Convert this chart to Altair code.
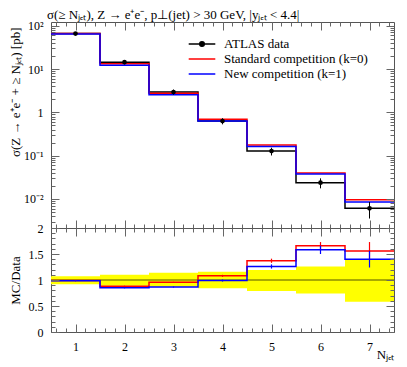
import altair as alt
import pandas as pd

# ---------------- data ----------------
bins = [1, 2, 3, 4, 5, 6, 7]
bin_lo = [0.5, 1.5, 2.5, 3.5, 4.5, 5.5, 6.5]
bin_hi = [1.5, 2.5, 3.5, 4.5, 5.5, 6.5, 7.5]

data_vals = [66.0, 14.4, 2.95, 0.63, 0.128, 0.0238, 0.0061]
std_vals = [66.0, 13.2, 2.75, 0.69, 0.176, 0.0400, 0.0096]
new_vals = [64.5, 12.2, 2.55, 0.63, 0.164, 0.0378, 0.0085]

band_lo = [0.92, 0.89, 0.87, 0.84, 0.79, 0.74, 0.58]
band_hi = [1.07, 1.10, 1.14, 1.16, 1.19, 1.26, 1.40]

std_ratio = [0.99, 0.88, 0.955, 1.08, 1.37, 1.66, 1.56]
new_ratio = [0.985, 0.85, 0.865, 0.99, 1.26, 1.58, 1.40]
std_ratio_err = [0.01, 0.01, 0.01, 0.02, 0.04, 0.07, 0.17]
new_ratio_err = [0.01, 0.01, 0.01, 0.02, 0.04, 0.08, 0.16]

series_names = ["ATLAS data", "Standard competition (k=0)", "New competition (k=1)"]
series_colors = ["#000000", "#ff0000", "#0000ff"]
legend_shapes = ["M-1.9,0H1.9M-0.33,0A0.33,0.33,0,1,1,0.33,0A0.33,0.33,0,1,1,-0.33,0",
                 "M-1.9,0H1.9", "M-1.9,0H1.9"]

title_text = "σ(≥ Nⱼₑₜ), Z → e⁺e⁻, p⊥(jet) > 30 GeV, |yⱼₑₜ < 4.4|"
ytitle_main = "σ(Z → e⁺e⁻ + ≥ Nⱼₑₜ) [pb]"
ytitle_ratio = "MC/Data"
xtitle = "Nⱼₑₜ"

# ---------------- tables ----------------
def step_table(vals, name):
    xs = bin_lo + [bin_hi[-1]]
    ys = vals + [vals[-1]]
    return pd.DataFrame({"x": xs, "y": ys, "series": name})

main_steps = pd.concat([
    step_table(data_vals, series_names[0]),
    step_table(std_vals, series_names[1]),
    step_table(new_vals, series_names[2]),
])
ratio_steps = pd.concat([
    step_table(std_ratio, series_names[1]),
    step_table(new_ratio, series_names[2]),
])
points = pd.DataFrame({
    "x": bins, "y": data_vals,
    "lo": [v * l for v, l in zip(data_vals, band_lo)],
    "hi": [v * h for v, h in zip(data_vals, band_hi)],
})
band = pd.DataFrame({"x": bin_lo, "x2": bin_hi, "lo": band_lo, "hi": band_hi})
rerr = pd.concat([
    pd.DataFrame({"x": bins, "lo": [r - e for r, e in zip(std_ratio, std_ratio_err)],
                  "hi": [r + e for r, e in zip(std_ratio, std_ratio_err)], "series": series_names[1]}),
    pd.DataFrame({"x": bins, "lo": [r - e for r, e in zip(new_ratio, new_ratio_err)],
                  "hi": [r + e for r, e in zip(new_ratio, new_ratio_err)], "series": series_names[2]}),
])
dummy = pd.DataFrame({"x": [1.0], "y": [1.0]})
legend_df = pd.DataFrame({"x": [1.0] * 3, "y": [1.0] * 3, "series": series_names})

# ---------------- styling ----------------
FONT = "Liberation Serif"
W, H1, H2 = 343, 206, 104
TICK_COLOR = "#666666"
MAJ, MIN = 8, 4

xscale = alt.Scale(domain=[0.5, 7.5], nice=False, zero=False)
yscale_main = alt.Scale(type="log", domain=[0.00214, 122], nice=False)
yscale_ratio = alt.Scale(domain=[0, 2], nice=False, zero=False)
color_scale = alt.Scale(domain=series_names, range=series_colors)
shape_scale = alt.Scale(domain=series_names, range=legend_shapes)

x_minor = [round(0.6 + 0.2 * i, 1) for i in range(35)]
y_major_main = [0.01, 0.1, 1, 10, 100]
y_minor_main = [k * 10.0 ** e for e in range(-3, 3) for k in range(2, 10)
                if 0.00214 <= k * 10.0 ** e <= 122]
y_major_ratio = [0, 0.5, 1, 1.5, 2]
y_minor_ratio = [round(0.1 * i, 1) for i in range(21)]

log_label = ("datum.value >= 99 ? '10²' : datum.value >= 9 ? '10¹' : datum.value >= 0.9 ? '1' : "
             "datum.value >= 0.09 ? '10⁻¹' : '10⁻²'")


def ax(orient, values, size, labels=False, **kw):
    return alt.Axis(orient=orient, values=values, tickSize=size, offset=-size, domain=False,
                    grid=False, labels=labels, tickColor=TICK_COLOR, tickWidth=1,
                    labelFont=FONT, labelFontSize=12, labelColor="#000", title=kw.pop("title", None),
                    zindex=2, **kw)


def hosts(yscale, ymaj, ymin, bottom_major_axis, left_major_axis):
    specs = [
        (bottom_major_axis, left_major_axis),
        (ax("bottom", x_minor, MIN), ax("left", ymin, MIN)),
        (ax("top", bins, MAJ), ax("right", ymaj, MAJ)),
        (ax("top", x_minor, MIN), ax("right", ymin, MIN)),
    ]
    layers = []
    for xa, ya in specs:
        layers.append(
            alt.Chart(dummy).mark_point(opacity=0).encode(
                x=alt.X("x:Q", scale=xscale, axis=xa),
                y=alt.Y("y:Q", scale=yscale, axis=ya),
            )
        )
    return layers


# ---------------- main panel ----------------
main_hosts = hosts(
    yscale_main, y_major_main, y_minor_main,
    ax("bottom", bins, MAJ),
    ax("left", y_major_main, MAJ, labels=True, labelExpr=log_label, labelPadding=8,
       title=ytitle_main, titleFont=FONT, titleFontSize=13, titleFontWeight="normal",
       titleColor="#000", titleAngle=-90, titleAlign="right", titleBaseline="middle",
       titleX=-44, titleY=5),
)

legend = alt.Legend(
    orient="none", legendX=143, legendY=14, title=None,
    symbolSize=196, symbolStrokeWidth=1.5, symbolOpacity=1,
    labelFont=FONT, labelFontSize=13, labelColor="#000", labelOffset=14,
    rowPadding=0, padding=0,
)

legend_layer = alt.Chart(legend_df).transform_filter("false").mark_point(
    filled=True, strokeWidth=1.5
).encode(
    x=alt.X("x:Q", scale=xscale, axis=None),
    y=alt.Y("y:Q", scale=yscale_main, axis=None),
    color=alt.Color("series:N", scale=color_scale, legend=legend),
    stroke=alt.Stroke("series:N", scale=color_scale, legend=legend),
    shape=alt.Shape("series:N", scale=shape_scale, legend=legend),
)


def step_layer(df, yscale, name, width):
    return alt.Chart(df).transform_filter(alt.datum.series == name).mark_line(
        interpolate="step-after", strokeWidth=width, clip=True
    ).encode(
        x=alt.X("x:Q", scale=xscale, axis=None),
        y=alt.Y("y:Q", scale=yscale, axis=None),
        stroke=alt.Stroke("series:N", scale=color_scale, legend=None),
    )


main_lines = [step_layer(main_steps, yscale_main, n, 1.5) for n in series_names]

main_err = alt.Chart(points).mark_rule(color="#000", strokeWidth=1, clip=True).encode(
    x=alt.X("x:Q", scale=xscale, axis=None),
    y=alt.Y("lo:Q", scale=yscale_main, axis=None),
    y2="hi:Q",
)
main_pts = alt.Chart(points).mark_circle(color="#000", size=22, opacity=1, clip=True).encode(
    x=alt.X("x:Q", scale=xscale, axis=None),
    y=alt.Y("y:Q", scale=yscale_main, axis=None),
)

main = alt.layer(legend_layer, *main_lines, main_err, main_pts, *main_hosts).resolve_axis(
    x="independent", y="independent"
).properties(
    width=W, height=H1,
    title=alt.Title(title_text, anchor="start", frame="group", dx=-4, offset=-2, font=FONT,
                    fontSize=13, fontWeight="normal", color="#000"),
)

# ---------------- ratio panel ----------------
ratio_hosts = hosts(
    yscale_ratio, y_major_ratio, y_minor_ratio,
    ax("bottom", bins, MAJ, labels=True, labelPadding=9, labelBaseline="top",
       title=xtitle, titleFont=FONT, titleFontSize=13, titleFontWeight="normal",
       titleColor="#000", titleAnchor="end", titleAlign="right", titleBaseline="middle",
       titleX=W, titleY=30),
    ax("left", y_major_ratio, MAJ, labels=True, labelPadding=8, format="~g",
       title=ytitle_ratio, titleFont=FONT, titleFontSize=13, titleFontWeight="normal",
       titleColor="#000", titleAngle=-90, titleAlign="center", titleBaseline="middle",
       titleX=-44, titleY=H2 / 2),
)

ratio_band = alt.Chart(band).mark_rect(color="#ffff00", opacity=1).encode(
    x=alt.X("x:Q", scale=xscale, axis=None), x2="x2:Q",
    y=alt.Y("lo:Q", scale=yscale_ratio, axis=None), y2="hi:Q",
)
one_line = alt.Chart(dummy).mark_rule(color="#555500", strokeWidth=1).encode(
    y=alt.Y("y:Q", scale=yscale_ratio, axis=None),
)


def ratio_step(name):
    return alt.Chart(ratio_steps).transform_filter(alt.datum.series == name).mark_line(
        interpolate="step-after", strokeWidth=1.5, clip=True
    ).encode(
        x=alt.X("x:Q", scale=xscale, axis=None),
        y=alt.Y("y:Q", scale=yscale_ratio, axis=None),
        stroke=alt.Stroke("series:N", scale=color_scale, legend=None),
    )


ratio_err = alt.Chart(rerr).mark_rule(strokeWidth=1.2, clip=True).encode(
    x=alt.X("x:Q", scale=xscale, axis=None),
    y=alt.Y("lo:Q", scale=yscale_ratio, axis=None), y2="hi:Q",
    stroke=alt.Stroke("series:N", scale=color_scale, legend=None),
)

ratio = alt.layer(
    ratio_band, one_line, ratio_step(series_names[1]), ratio_step(series_names[2]),
    ratio_err, *ratio_hosts
).resolve_axis(x="independent", y="independent").properties(width=W, height=H2)

chart = alt.vconcat(main, ratio, spacing=0, bounds="flush").properties(
    padding=0,
).configure_view(stroke="#555555", strokeWidth=1).configure_concat(spacing=0)

chart.save("out.html", embed_options={"renderer": "svg", "actions": False})
